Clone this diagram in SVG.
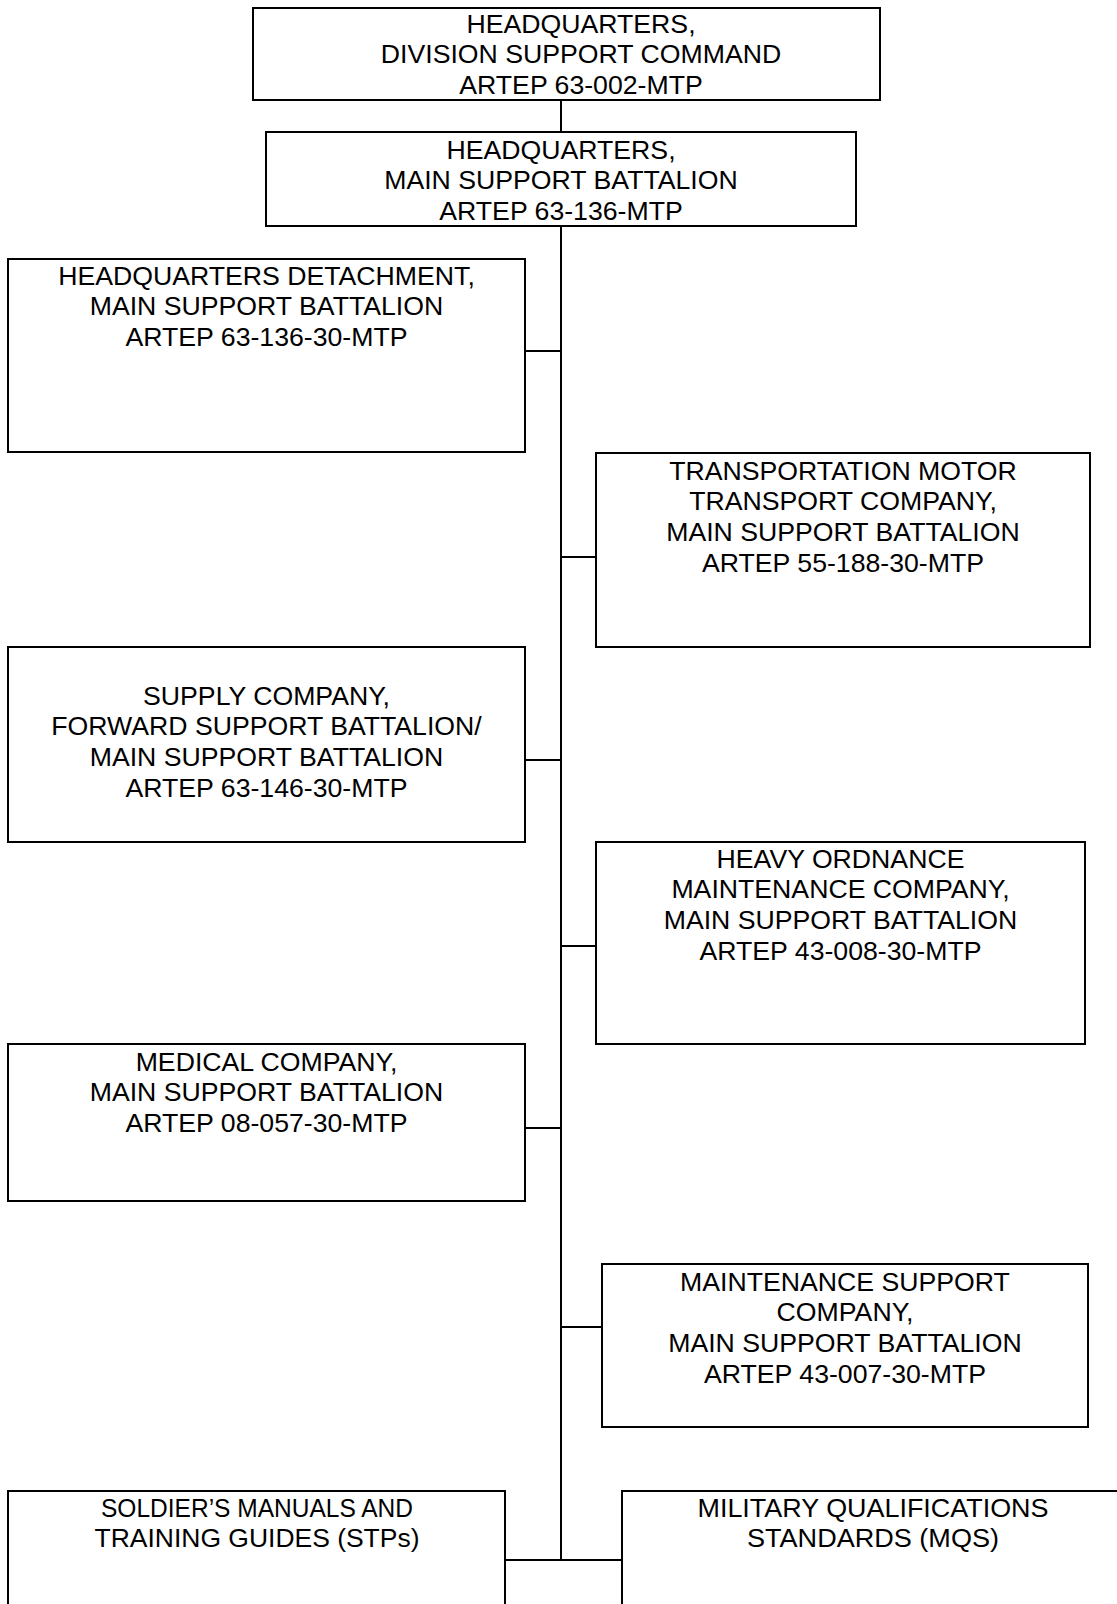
<svg xmlns="http://www.w3.org/2000/svg" width="1117" height="1604" viewBox="0 0 1117 1604">
<style>
.box{fill:#fff;stroke:#000;stroke-width:2}
.t{font-family:"Liberation Sans",Arial,sans-serif;font-size:26.67px;fill:#000;text-anchor:middle}
.c{stroke:#000;stroke-width:2;fill:none}
</style>
<rect width="1117" height="1604" fill="#fff"/>
<g id="connectors">
<line class="c" x1="561" y1="100" x2="561" y2="132"/>
<line class="c" x1="561" y1="226" x2="561" y2="1560"/>
<line class="c" x1="525" y1="351" x2="561" y2="351"/>
<line class="c" x1="561" y1="557" x2="596" y2="557"/>
<line class="c" x1="525" y1="760" x2="561" y2="760"/>
<line class="c" x1="561" y1="946" x2="596" y2="946"/>
<line class="c" x1="525" y1="1128" x2="561" y2="1128"/>
<line class="c" x1="561" y1="1327" x2="602" y2="1327"/>
<line class="c" x1="505" y1="1560" x2="622" y2="1560"/>
</g>
<g id="n1">
<rect class="box" x="253" y="8" width="627" height="92"/>
<text class="t" x="581" y="32.5">HEADQUARTERS,</text>
<text class="t" x="581" y="63.2">DIVISION SUPPORT COMMAND</text>
<text class="t" x="581" y="93.8">ARTEP 63-002-MTP</text>
</g>
<g id="n2">
<rect class="box" x="266" y="132" width="590" height="94"/>
<text class="t" x="561" y="158.5">HEADQUARTERS,</text>
<text class="t" x="561" y="189.2">MAIN SUPPORT BATTALION</text>
<text class="t" x="561" y="219.8">ARTEP 63-136-MTP</text>
</g>
<g id="n3">
<rect class="box" x="8" y="259" width="517" height="193"/>
<text class="t" x="266.5" y="284.5">HEADQUARTERS DETACHMENT,</text>
<text class="t" x="266.5" y="315.2">MAIN SUPPORT BATTALION</text>
<text class="t" x="266.5" y="345.8">ARTEP 63-136-30-MTP</text>
</g>
<g id="n4">
<rect class="box" x="596" y="453" width="494" height="194"/>
<text class="t" x="843" y="479.5">TRANSPORTATION MOTOR</text>
<text class="t" x="843" y="510.2">TRANSPORT COMPANY,</text>
<text class="t" x="843" y="540.8">MAIN SUPPORT BATTALION</text>
<text class="t" x="843" y="571.5">ARTEP 55-188-30-MTP</text>
</g>
<g id="n5">
<rect class="box" x="8" y="647" width="517" height="195"/>
<text class="t" x="266.5" y="704.5">SUPPLY COMPANY,</text>
<text class="t" x="266.5" y="735.2">FORWARD SUPPORT BATTALION/</text>
<text class="t" x="266.5" y="765.8">MAIN SUPPORT BATTALION</text>
<text class="t" x="266.5" y="796.5">ARTEP 63-146-30-MTP</text>
</g>
<g id="n6">
<rect class="box" x="596" y="842" width="489" height="202"/>
<text class="t" x="840.5" y="867.5">HEAVY ORDNANCE</text>
<text class="t" x="840.5" y="898.2">MAINTENANCE COMPANY,</text>
<text class="t" x="840.5" y="928.8">MAIN SUPPORT BATTALION</text>
<text class="t" x="840.5" y="959.5">ARTEP 43-008-30-MTP</text>
</g>
<g id="n7">
<rect class="box" x="8" y="1044" width="517" height="157"/>
<text class="t" x="266.5" y="1070.5">MEDICAL COMPANY,</text>
<text class="t" x="266.5" y="1101.2">MAIN SUPPORT BATTALION</text>
<text class="t" x="266.5" y="1131.8">ARTEP 08-057-30-MTP</text>
</g>
<g id="n8">
<rect class="box" x="602" y="1264" width="486" height="163"/>
<text class="t" x="845" y="1290.5">MAINTENANCE SUPPORT</text>
<text class="t" x="845" y="1321.2">COMPANY,</text>
<text class="t" x="845" y="1351.8">MAIN SUPPORT BATTALION</text>
<text class="t" x="845" y="1382.5">ARTEP 43-007-30-MTP</text>
</g>
<g id="n9">
<rect class="box" x="8" y="1491" width="497" height="130"/>
<text class="t" x="257" y="1516.5" textLength="312" lengthAdjust="spacingAndGlyphs">SOLDIER’S MANUALS AND</text>
<text class="t" x="257" y="1547.2" textLength="325" lengthAdjust="spacingAndGlyphs">TRAINING GUIDES (STPs)</text>
</g>
<g id="n10">
<rect class="box" x="622" y="1491" width="510" height="130"/>
<text class="t" x="873" y="1516.5" textLength="351" lengthAdjust="spacingAndGlyphs">MILITARY QUALIFICATIONS</text>
<text class="t" x="873" y="1547.2" textLength="252" lengthAdjust="spacingAndGlyphs">STANDARDS (MQS)</text>
</g>
</svg>
